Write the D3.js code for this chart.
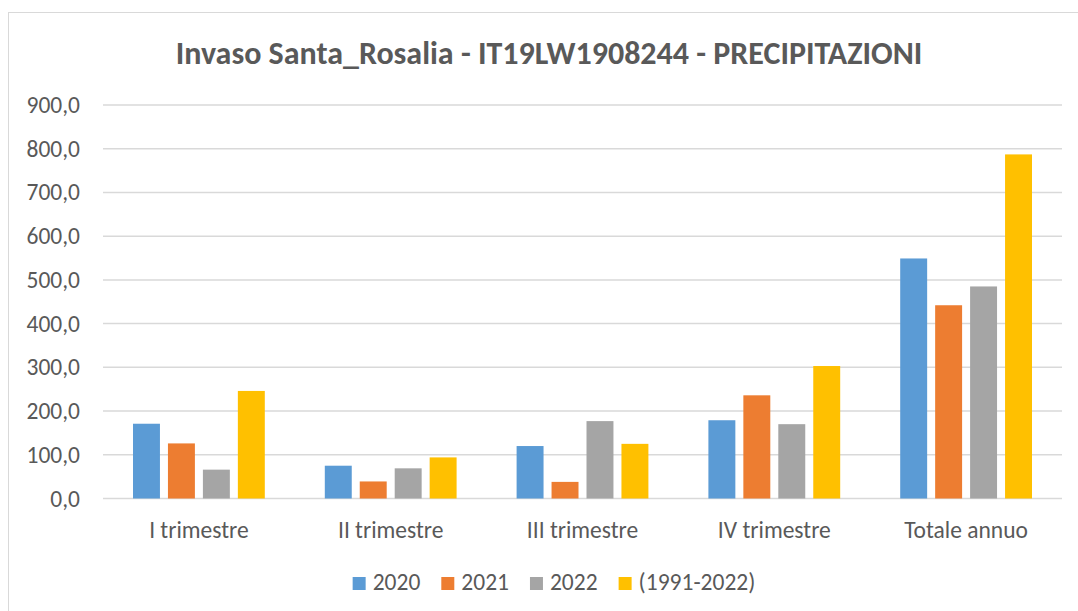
<!DOCTYPE html>
<html>
<head>
<meta charset="utf-8">
<script src="https://cdn.jsdelivr.net/npm/d3@7"></script>
<style>
  html, body { margin: 0; padding: 0; background: #fff; }
  svg { display: block; }
  text { font-family: Carlito, Calibri, "Open Sans", sans-serif; fill: #595959; }
</style>
</head>
<body>
<svg id="chart" width="1078" height="611"></svg>
<script>
// Precipitation totals (mm) by quarter and year
const categories = ["I trimestre", "II trimestre", "III trimestre", "IV trimestre", "Totale annuo"];
const seriesNames = ["2020", "2021", "2022", "(1991-2022)"];
const values2020 = [171, 75, 120, 179, 549];
const values2021 = [126, 39, 38, 236, 442];
const values2022 = [66, 69, 177, 170, 485];
const valuesNormal = [246, 94, 125, 303, 787];
const colors = ["#5B9BD5", "#ED7D31", "#A5A5A5", "#FFC000"];
const yTicks = [0, 100, 200, 300, 400, 500, 600, 700, 800, 900];
const title = "Invaso Santa_Rosalia - IT19LW1908244 - PRECIPITAZIONI";

const seriesValues = [values2020, values2021, values2022, valuesNormal];

const svg = d3.select("#chart");
const labelSize = 23.5;

// chart frame
svg.append("rect")
  .attr("x", 8.5).attr("y", 12.5)
  .attr("width", 1078).attr("height", 620)
  .attr("fill", "#fff").attr("stroke", "#d9d9d9").attr("stroke-width", 1);

const plot = { left: 103, right: 1062, top: 105, bottom: 498.5 };

const y = d3.scaleLinear().domain([0, 900]).range([plot.bottom, plot.top]);
const x0 = d3.scaleBand().domain(categories).range([plot.left, plot.right]).paddingInner(0).paddingOuter(0);
const groupPad = 30;
const x1 = d3.scaleBand().domain(seriesNames)
  .range([groupPad, x0.bandwidth() - groupPad])
  .paddingInner(0.229).paddingOuter(0);

// gridlines
svg.append("g")
  .selectAll("line")
  .data(yTicks)
  .join("line")
  .attr("x1", plot.left).attr("x2", plot.right)
  .attr("y1", d => y(d)).attr("y2", d => y(d))
  .attr("stroke", "#d9d9d9").attr("stroke-width", 1.5);

// y axis labels
const fmt = d => d3.format(".1f")(d).replace(".", ",");
svg.append("g")
  .selectAll("text")
  .data(yTicks)
  .join("text")
  .attr("x", 80).attr("y", d => y(d) + 8)
  .attr("text-anchor", "end")
  .attr("font-size", labelSize)
  .text(fmt);

// bars
const groups = svg.append("g")
  .selectAll("g")
  .data(categories)
  .join("g")
  .attr("transform", c => `translate(${x0(c)},0)`);

groups.selectAll("rect")
  .data((c, i) => seriesNames.map((s, k) => ({ s, k, v: seriesValues[k][i] })))
  .join("rect")
  .attr("x", d => x1(d.s))
  .attr("width", x1.bandwidth())
  .attr("y", d => y(d.v))
  .attr("height", d => y(0) - y(d.v))
  .attr("fill", d => colors[d.k]);

// category labels
svg.append("g")
  .selectAll("text")
  .data(categories)
  .join("text")
  .attr("x", c => x0(c) + x0.bandwidth() / 2)
  .attr("y", 538)
  .attr("text-anchor", "middle")
  .attr("font-size", labelSize)
  .text(c => c);

// title
svg.append("text")
  .attr("x", 549).attr("y", 64)
  .attr("text-anchor", "middle")
  .attr("font-size", 32)
  .attr("font-weight", "bold")
  .text(title);

// legend
const legend = svg.append("g");
const items = legend.selectAll("g")
  .data(seriesNames)
  .join("g");
items.append("rect")
  .attr("width", 13).attr("height", 13)
  .attr("y", 577)
  .attr("fill", (d, i) => colors[i]);
items.append("text")
  .attr("x", 20).attr("y", 590)
  .attr("font-size", labelSize)
  .text(d => d);
let cx = 0;
const pos = [];
items.each(function () {
  const w = d3.select(this).select("text").node().getComputedTextLength() + 20;
  pos.push(cx);
  cx += w + 21;
});
const totalW = cx - 21;
const startX = 554 - totalW / 2;
items.attr("transform", (d, i) => `translate(${startX + pos[i]},0)`);
</script>
</body>
</html>
